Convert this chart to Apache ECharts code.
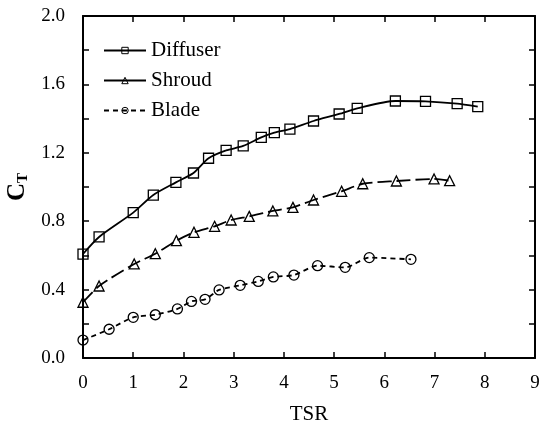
<!DOCTYPE html>
<html>
<head>
<meta charset="utf-8">
<script src="https://cdn.jsdelivr.net/npm/echarts@6/dist/echarts.min.js"></script>
<style>
  html, body { margin: 0; padding: 0; background: #fff; }
  #chart { width: 550px; height: 427px; }
</style>
</head>
<body>
<div id="chart"></div>
<script>
// Thrust coefficient C_T against tip speed ratio for each component
const diffuserTSR = [0, 0.32, 1.0, 1.40, 1.85, 2.20, 2.50, 2.85, 3.19, 3.55, 3.81, 4.12, 4.59, 5.10, 5.46, 6.22, 6.82, 7.45, 7.86];
const diffuserCT  = [0.608, 0.708, 0.85, 0.953, 1.027, 1.082, 1.168, 1.214, 1.24, 1.29, 1.318, 1.339, 1.386, 1.427, 1.46, 1.503, 1.501, 1.487, 1.47];

const shroudTSR = [0, 0.32, 1.02, 1.44, 1.86, 2.21, 2.62, 2.95, 3.31, 3.78, 4.18, 4.59, 5.15, 5.57, 6.24, 6.99, 7.30];
const shroudCT  = [0.326, 0.421, 0.55, 0.61, 0.686, 0.735, 0.77, 0.807, 0.828, 0.86, 0.881, 0.924, 0.975, 1.019, 1.035, 1.047, 1.037];

const bladeTSR = [0, 0.52, 1.0, 1.44, 1.88, 2.16, 2.43, 2.71, 3.13, 3.49, 3.79, 4.20, 4.67, 5.22, 5.70, 6.53];
const bladeCT  = [0.105, 0.168, 0.238, 0.253, 0.287, 0.331, 0.343, 0.398, 0.425, 0.448, 0.474, 0.485, 0.54, 0.53, 0.587, 0.577];

const seriesNames = ['Diffuser', 'Shroud', 'Blade'];

const pairs = (xs, ys) => xs.map((x, i) => [x, ys[i]]);
const FONT = '"Liberation Serif", "Times New Roman", serif';

const chart = echarts.init(document.getElementById('chart'), null, { renderer: 'canvas' });

function makeSeries(name, data, symbol, dash) {
  return {
    name: name,
    type: 'line',
    data: data,
    smooth: 0.25,
    symbol: symbol,
    symbolSize: 10,
    showAllSymbol: true,
    lineStyle: { color: '#000', width: 1.8, type: dash },
    itemStyle: { color: 'rgba(255,255,255,0)', borderColor: '#000', borderWidth: 1.3 },
    emphasis: { disabled: true },
    animation: false
  };
}

const axisTickStyle = { show: true, inside: true, length: 6, lineStyle: { color: '#000', width: 1.5 } };
const legendMarker = { color: 'rgba(255,255,255,0)', borderColor: '#000', borderWidth: 1 };

chart.setOption({
  backgroundColor: '#fff',
  animation: false,
  grid: { left: 83, right: 15, top: 16, bottom: 69, containLabel: false, outerBoundsMode: 'none' },
  legend: {
    data: [
      { name: seriesNames[0], itemStyle: legendMarker },
      { name: seriesNames[1], itemStyle: legendMarker, lineStyle: { type: 'solid' } },
      { name: seriesNames[2], itemStyle: legendMarker }
    ],
    orient: 'vertical',
    left: 98,
    top: 35,
    itemGap: 9,
    itemWidth: 42,
    itemHeight: 8,
    textStyle: { fontFamily: FONT, fontSize: 21, color: '#000' },
    selectedMode: false
  },
  xAxis: [
    {
      type: 'value', min: 0, max: 9, interval: 1,
      name: 'TSR', nameLocation: 'middle', nameGap: 46,
      nameTextStyle: { fontFamily: FONT, fontSize: 21, color: '#000' },
      axisLine: { show: true, onZero: false, lineStyle: { color: '#000', width: 2 } },
      axisTick: axisTickStyle,
      axisLabel: { fontFamily: FONT, fontSize: 19, color: '#000', margin: 16 },
      splitLine: { show: false }
    },
    {
      type: 'value', min: 0, max: 9, interval: 1, position: 'top',
      axisLine: { show: true, onZero: false, lineStyle: { color: '#000', width: 2 } },
      axisTick: axisTickStyle,
      axisLabel: { show: false },
      splitLine: { show: false }
    }
  ],
  yAxis: [
    {
      type: 'value', min: 0, max: 2.0, interval: 0.4,
      name: '{c|C}{t|T}', nameLocation: 'middle', nameGap: 49, nameRotate: 90,
      nameTextStyle: {
        rich: {
          c: { fontFamily: FONT, fontSize: 25, fontWeight: 'bold', color: '#000' },
          t: { fontFamily: FONT, fontSize: 15, fontWeight: 'bold', color: '#000', padding: [10, 0, 0, 0] }
        }
      },
      axisLine: { show: true, onZero: false, lineStyle: { color: '#000', width: 2 } },
      axisTick: axisTickStyle,
      minorTick: { show: true, splitNumber: 2, length: 6, lineStyle: { color: '#000', width: 1.5 } },
      axisLabel: { fontFamily: FONT, fontSize: 19, color: '#000', margin: 18, formatter: v => v.toFixed(1) },
      splitLine: { show: false }
    },
    {
      type: 'value', min: 0, max: 2.0, interval: 0.4, position: 'right',
      axisLine: { show: true, onZero: false, lineStyle: { color: '#000', width: 2 } },
      axisTick: axisTickStyle,
      minorTick: { show: true, splitNumber: 2, length: 6, lineStyle: { color: '#000', width: 1.5 } },
      axisLabel: { show: false },
      splitLine: { show: false }
    }
  ],
  series: [
    makeSeries(seriesNames[0], pairs(diffuserTSR, diffuserCT), 'rect', 'solid'),
    makeSeries(seriesNames[1], pairs(shroudTSR, shroudCT), 'triangle', [14, 5]),
    makeSeries(seriesNames[2], pairs(bladeTSR, bladeCT), 'circle', [5, 4])
  ]
});
</script>
</body>
</html>
